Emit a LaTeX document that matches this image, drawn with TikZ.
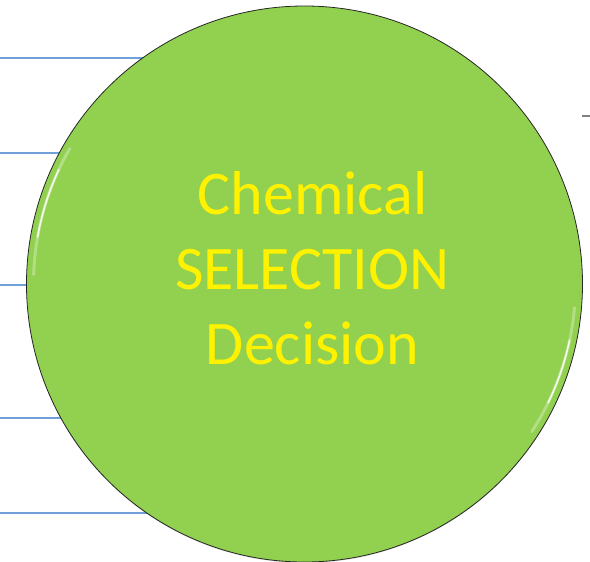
\documentclass[tikz,border=0pt]{standalone}
\usepackage{fontspec}
\setmainfont{Carlito}
\usepackage{tikz}
\usetikzlibrary{positioning,backgrounds,shadows}
\definecolor{leafgreen}{HTML}{92D050}
\definecolor{feedblue}{HTML}{6FA0DA}
\tikzstyle{decisionball}=[draw=black!85, line width=0.8pt, fill=leafgreen, circle, minimum size=556pt, inner sep=0pt, drop shadow={shadow xshift=0pt, shadow yshift=-1pt, opacity=0.25}]
\tikzstyle{caption}=[align=center, text=yellow, font=\fontsize{62}{75}\selectfont, inner sep=0pt]
\tikzstyle{feed}=[draw=feedblue, line width=2pt]
\tikzstyle{glint}=[draw=white, line cap=round]

\begin{document}
\begin{tikzpicture}[x=1pt, y=-1pt]
    \useasboundingbox (0,0) rectangle (590,562);
    \node [decisionball] (decision) at (304.5,284) {};
    \node [caption] (title) at ([xshift=8pt,yshift=16pt]decision.center) {Chemical\\SELECTION\\Decision};
    % lines coming in from the left, behind the ball
    \begin{pgfonlayer}{background}
        \foreach \name/\ypos in {a/57.5, b/152.5, c/285, d/417.5, e/512.5} {
            \coordinate (feed\name) at (0,\ypos);
            \draw [feed] (feed\name) -- (feed\name -| decision.center);
        }
    \end{pgfonlayer}
    % bevel highlights
    \draw [glint, line width=3pt, opacity=0.3] (decision.center) ++(-150:271) arc[start angle=-150, end angle=-178, radius=271];
    \draw [glint, line width=1.5pt, opacity=0.9] (decision.center) ++(-155:271) arc[start angle=-155, end angle=-170, radius=271];
    \draw [glint, line width=3pt, opacity=0.3] (decision.center) ++(5:271) arc[start angle=5, end angle=33, radius=271];
    \draw [glint, line width=1.5pt, opacity=0.9] (decision.center) ++(12:271) arc[start angle=12, end angle=26, radius=271];
    % short tick at the right
    \coordinate (tick) at (590,116);
    \draw [gray, line width=1.2pt] (tick) -- ++(-8,0);
\end{tikzpicture}
\end{document}
